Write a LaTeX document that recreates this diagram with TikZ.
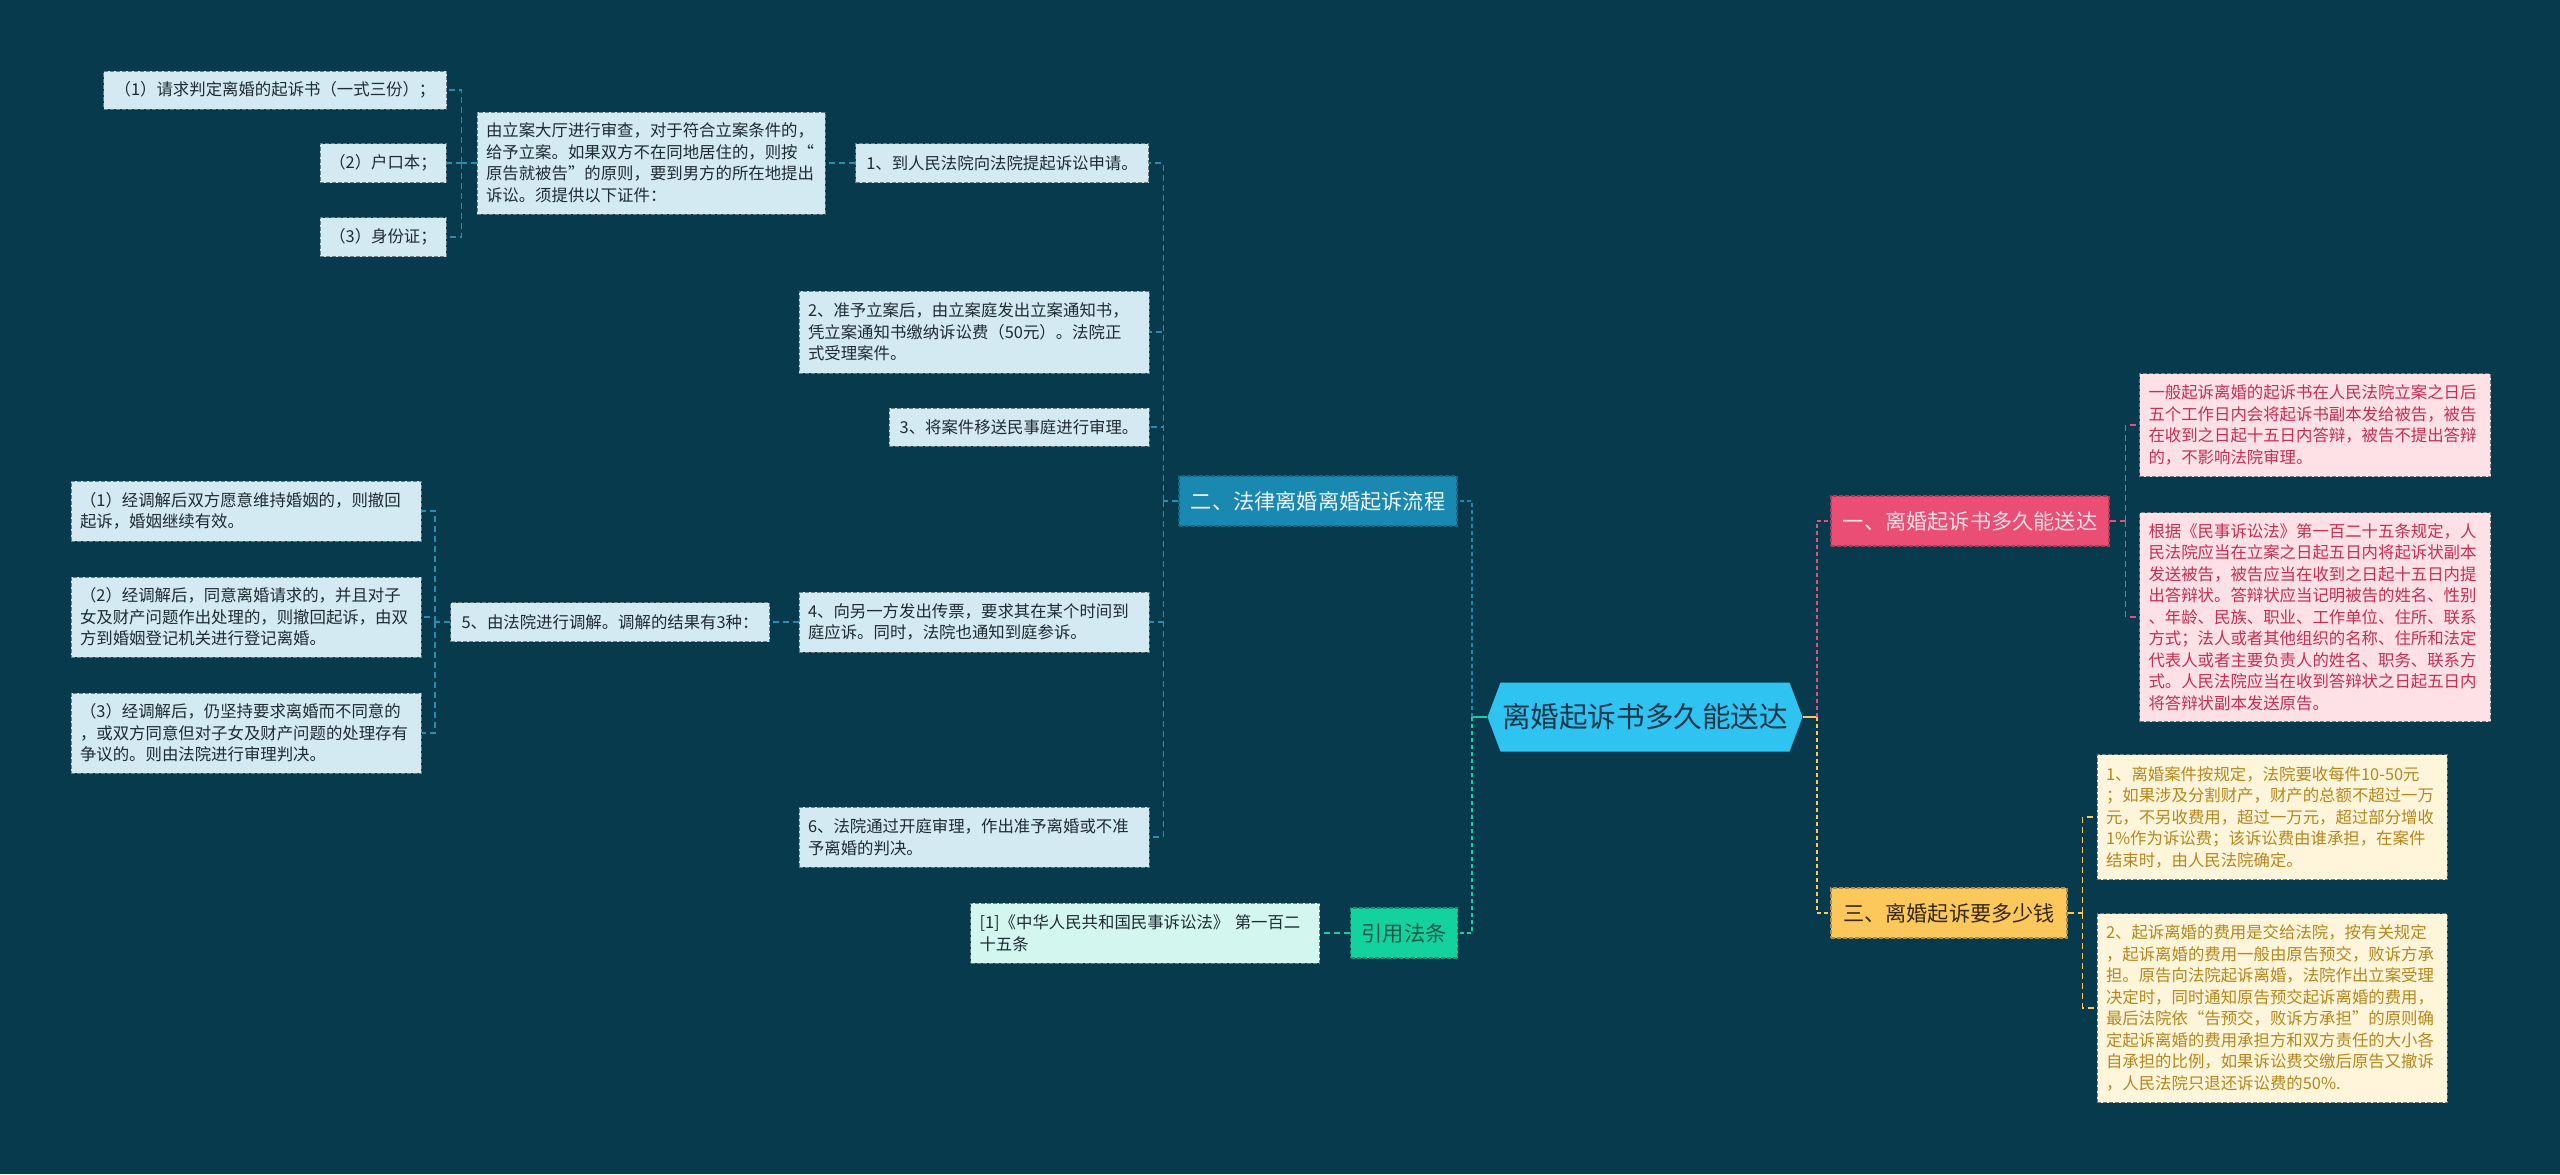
\documentclass[tikz,border=0pt]{standalone}
\usepackage{fontspec}
\setmainfont{Noto Sans CJK SC}

\definecolor{bgcol}{HTML}{083A4D}
\definecolor{leafedge}{HTML}{6F7C81}
\definecolor{leafblue}{HTML}{D3EAF2}
\definecolor{leaftext}{HTML}{1E2B33}
\definecolor{lineblue}{HTML}{2A8CB2}
\definecolor{flowcol}{HTML}{1A89B2}
\definecolor{rootcol}{HTML}{2EC3F1}
\definecolor{roottext}{HTML}{17364A}
\definecolor{pinkcol}{HTML}{EA4E75}
\definecolor{pinkleaf}{HTML}{FDE1E7}
\definecolor{pinktext}{HTML}{C42F52}
\definecolor{yelcol}{HTML}{FDC85B}
\definecolor{yelleaf}{HTML}{FFF5DB}
\definecolor{yeltext}{HTML}{B5871C}
\definecolor{greencol}{HTML}{14D29E}
\definecolor{mintleaf}{HTML}{D3F6EE}
\definecolor{greentext}{HTML}{1A5646}

\tikzset{
  leaf/.style={draw=leafedge, dash pattern=on 2pt off 1pt, line width=0.5pt,
    inner xsep=4.5pt, inner ysep=0pt, font=\fontsize{8.2}{10.75}\selectfont},
  bluebox/.style={leaf, fill=leafblue, text=leaftext},
  pinkbox/.style={leaf, fill=pinkleaf, text=pinktext},
  yelbox/.style={leaf, fill=yelleaf, text=yeltext},
  mintbox/.style={leaf, fill=mintleaf, text=leaftext},
  lines/.style={text width=#1, align=left},
  branch/.style={dash pattern=on 2pt off 1pt, line width=0.6pt, inner sep=0pt,
    minimum height=25pt, font=\fontsize{10.6}{12}\selectfont},
  hexa/.style={fill=bgcol, path picture={
    \fill[rootcol] (path picture bounding box.west)
      -- ([xshift=6.5pt]path picture bounding box.north west)
      -- ([xshift=-6.5pt]path picture bounding box.north east)
      -- (path picture bounding box.east)
      -- ([xshift=-6.5pt]path picture bounding box.south east)
      -- ([xshift=6.5pt]path picture bounding box.south west) -- cycle;}},
  link/.style={draw=#1, line width=0.75pt, dash pattern=on 3pt off 2pt},
  trunk/.style={draw=#1, line width=1.4pt, dash pattern=on 2pt off 1.5pt},
}

\begin{document}
\begin{tikzpicture}[x=0.5pt,y=-0.5pt]
\fill[bgcol] (0,0) rectangle (2560,1174);
\useasboundingbox (0,0) rectangle (2560,1174);

% centre
\node[hexa, text=roottext, minimum width=157.5pt, minimum height=34.5pt, inner sep=0pt,
  font=\fontsize{14.3}{16}\selectfont] (root) at (1645,717) {离婚起诉书多久能送达};

% branches
\node[branch, draw=flowcol!75!black, fill=flowcol, text=white!92!flowcol, minimum width=139pt] (flow) at (1318,501) {二、法律离婚离婚起诉流程};
\node[branch, draw=greencol!70!black, fill=greencol, text=greentext, minimum width=53.5pt] (cite) at (1404,933) {引用法条};
\node[branch, draw=pinkcol!75!black, fill=pinkcol, text=pinkleaf, minimum width=139pt] (b1) at (1970,521) {一、离婚起诉书多久能送达};
\node[branch, draw=yelcol!70!black, fill=yelcol, text=black!80!yelcol, minimum width=118pt] (b3) at (1949,913) {三、离婚起诉要多少钱};

% flow steps
\node[bluebox, minimum width=146.5pt, minimum height=19.5pt] (step1) at (1002,163) {1、到人民法院向法院提起诉讼申请。};
\node[bluebox, lines=166pt, minimum height=41pt] (step2) at (974,332) {2、准予立案后，由立案庭发出立案通知书，\\凭立案通知书缴纳诉讼费（50元）。法院正\\式受理案件。};
\node[bluebox, minimum width=130pt, minimum height=19pt] (step3) at (1019,427) {3、将案件移送民事庭进行审理。};
\node[bluebox, lines=166pt, minimum height=30pt] (step4) at (974,622) {4、向另一方发出传票，要求其在某个时间到\\庭应诉。同时，法院也通知到庭参诉。};
\node[bluebox, lines=166pt, minimum height=30pt] (step6) at (974,837) {6、法院通过开庭审理，作出准予离婚或不准\\予离婚的判决。};

\node[bluebox, lines=165pt, minimum height=51pt] (filing) at (651,163) {由立案大厅进行审查，对于符合立案条件的，\\给予立案。如果双方不在同地居住的，则按“\\原告就被告”的原则，要到男方的所在地提出\\诉讼。须提供以下证件：};
\node[bluebox, minimum width=171.5pt, minimum height=19pt] (req1) at (275,90) {（1）请求判定离婚的起诉书（一式三份）；};
\node[bluebox, minimum width=63pt, minimum height=19.5pt] (req2) at (383,163) {（2）户口本；};
\node[bluebox, minimum width=63pt, minimum height=19.5pt] (req3) at (383,237) {（3）身份证；};

\node[bluebox, minimum width=159.5pt, minimum height=19.5pt] (step5) at (610,622) {5、由法院进行调解。调解的结果有3种：};
\node[bluebox, lines=166pt, minimum height=30pt] (med1) at (246,511) {（1）经调解后双方愿意维持婚姻的，则撤回\\起诉，婚姻继续有效。};
\node[bluebox, lines=166pt, minimum height=40pt] (med2) at (246,617) {（2）经调解后，同意离婚请求的，并且对子\\女及财产问题作出处理的，则撤回起诉，由双\\方到婚姻登记机关进行登记离婚。};
\node[bluebox, lines=166pt, minimum height=40pt] (med3) at (246,733) {（3）经调解后，仍坚持要求离婚而不同意的\\，或双方同意但对子女及财产问题的处理存有\\争议的。则由法院进行审理判决。};

\node[mintbox, lines=165.5pt, minimum height=30pt] (law) at (1145,933) {[1]《中华人民共和国民事诉讼法》~第一百二\\十五条};

% right side
\node[pinkbox, lines=166.5pt, minimum height=51.5pt] (p1) at (2315,425) {一般起诉离婚的起诉书在人民法院立案之日后\\五个工作日内会将起诉书副本发给被告，被告\\在收到之日起十五日内答辩，被告不提出答辩\\的，不影响法院审理。};
\node[pinkbox, lines=166.5pt, minimum height=104.5pt] (p2) at (2315,617) {根据《民事诉讼法》第一百二十五条规定，人\\民法院应当在立案之日起五日内将起诉状副本\\发送被告，被告应当在收到之日起十五日内提\\出答辩状。答辩状应当记明被告的姓名、性别\\、年龄、民族、职业、工作单位、住所、联系\\方式；法人或者其他组织的名称、住所和法定\\代表人或者主要负责人的姓名、职务、联系方\\式。人民法院应当在收到答辩状之日起五日内\\将答辩状副本发送原告。};
\node[yelbox, lines=166pt, minimum height=62.5pt] (y1) at (2272,817) {1、离婚案件按规定，法院要收每件10-50元\\；如果涉及分割财产，财产的总额不超过一万\\元，不另收费用，超过一万元，超过部分增收\\1\%作为诉讼费；该诉讼费由谁承担，在案件\\结束时，由人民法院确定。};
\node[yelbox, lines=166pt, minimum height=94.5pt] (y2) at (2272,1008) {2、起诉离婚的费用是交给法院，按有关规定\\，起诉离婚的费用一般由原告预交，败诉方承\\担。原告向法院起诉离婚，法院作出立案受理\\决定时，同时通知原告预交起诉离婚的费用，\\最后法院依“告预交，败诉方承担”的原则确\\定起诉离婚的费用承担方和双方责任的大小各\\自承担的比例，如果诉讼费交缴后原告又撤诉\\，人民法院只退还诉讼费的50\%.};

% connectors
\coordinate (lbus) at (1472,717);
\coordinate (rbus) at (1817,717);
\draw[greencol, line width=1.4pt] (root.west) -- (lbus);
\draw[yelcol, line width=1.4pt] (root.east) -- (rbus);
\draw[trunk=flowcol] (lbus) |- (flow.east);
\draw[trunk=greencol] (lbus) |- (cite.east);
\draw[trunk=pinkcol] (rbus) |- (b1.west);
\draw[trunk=yelcol] (rbus) |- (b3.west);

\draw[link=lineblue] (flow.west) -- ++(-15,0) coordinate (fbus);
\foreach \n in {step1,step2,step3,step4,step6}
  \draw[link=lineblue] (fbus) |- (\n.east);
\draw[link=lineblue] (step1.west) -- (filing.east);
\draw[link=lineblue] (filing.west) -- ++(-15,0) coordinate (qbus);
\foreach \n in {req1,req2,req3}
  \draw[link=lineblue] (qbus) |- (\n.east);
\draw[link=lineblue] (step4.west) -- (step5.east);
\draw[link=lineblue] (step5.west) -- ++(-15,0) coordinate (mbus);
\foreach \n in {med1,med2,med3}
  \draw[link=lineblue] (mbus) |- (\n.east);

\draw[link=greencol] (cite.west) -- (law.east);

\draw[link=pinkcol] (b1.east) -- ++(16,0) coordinate (pbus);
\foreach \n in {p1,p2}
  \draw[link=pinkcol] (pbus) |- (\n.west);
\draw[link=yelcol] (b3.east) -- ++(15,0) coordinate (ybus);
\foreach \n in {y1,y2}
  \draw[link=yelcol] (ybus) |- (\n.west);
\end{tikzpicture}
\end{document}
